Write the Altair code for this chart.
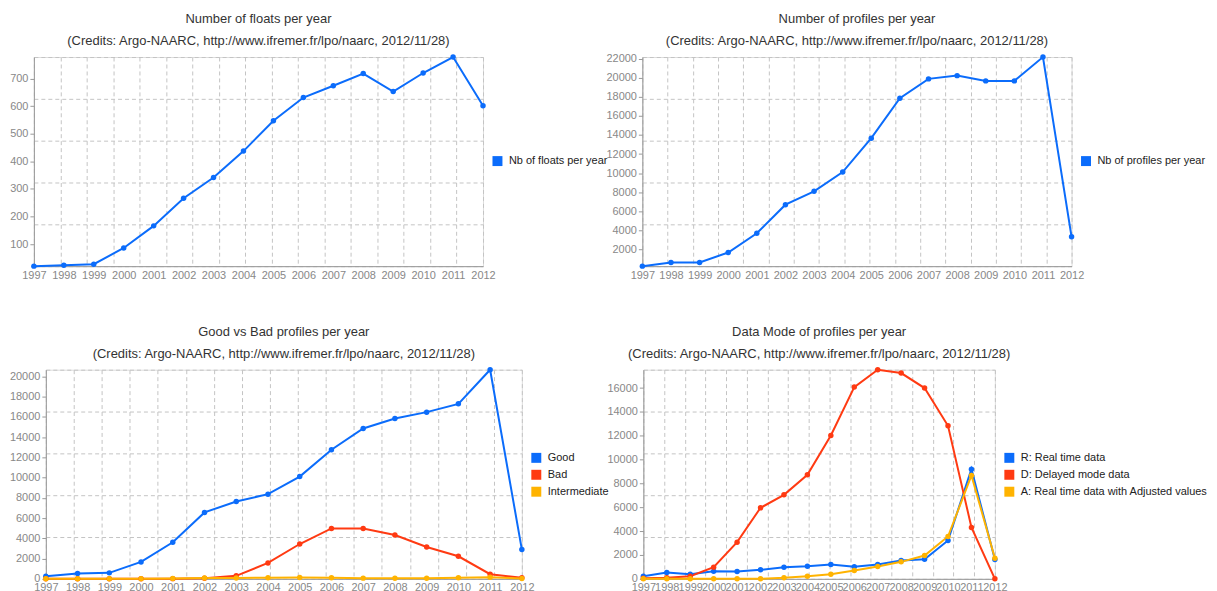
import altair as alt
import pandas as pd

years = [1997, 1998, 1999, 2000, 2001, 2002, 2003, 2004, 2005, 2006, 2007, 2008, 2009, 2010, 2011, 2012]

floats = [20, 23, 27, 86, 166, 266, 341, 437, 547, 631, 674, 718, 653, 720, 778, 601]
profiles = [260, 640, 650, 1690, 3710, 6700, 8100, 10120, 13670, 17850, 19880, 20220, 19670, 19670, 22170, 3330]

good = [260, 525, 590, 1670, 3610, 6560, 7640, 8360, 10100, 12750, 14850, 15840, 16460, 17280, 20650, 2890]
bad = [0, 0, 0, 10, 20, 60, 300, 1570, 3440, 4980, 4980, 4330, 3150, 2230, 460, 100]
intermediate = [10, 10, 10, 20, 30, 80, 80, 110, 130, 110, 70, 60, 60, 110, 150, 30]

mode_r = [224, 531, 392, 643, 615, 755, 979, 1063, 1203, 1007, 1203, 1538, 1650, 3217, 9202, 1622]
mode_d = [56, 84, 224, 979, 3077, 5958, 7048, 8726, 12027, 16083, 17540, 17258, 16000, 12838, 4307, 0]
mode_a = [0, 0, 0, 0, 0, 0, 84, 224, 392, 699, 1035, 1426, 1958, 3552, 8671, 1734]

ticks_floats = [100, 200, 300, 400, 500, 600, 700]
ticks_profiles = [2000, 4000, 6000, 8000, 10000, 12000, 14000, 16000, 18000, 20000, 22000]
ticks_quality = [0, 2000, 4000, 6000, 8000, 10000, 12000, 14000, 16000, 18000, 20000]
ticks_mode = [0, 2000, 4000, 6000, 8000, 10000, 12000, 14000, 16000]

credits = "(Credits: Argo-NAARC, http://www.ifremer.fr/lpo/naarc, 2012/11/28)"

BLUE = "#0b6cfb"
RED = "#ff3a12"
ORANGE = "#ffb300"
FONT = "Liberation Sans"

GRID_X_DIV = 17
GRID_Y_DIV = 5


def make_df(series):
    rows = []
    for name, vals in series:
        for y, v in zip(years, vals):
            rows.append({"year": y, "value": v, "series": name})
    return pd.DataFrame(rows)


def panel(title, series, colors, yticks, width, height, legend_y):
    names = [n for n, _ in series]
    df = make_df(series)
    grid_df = pd.DataFrame({"gx": [0, GRID_X_DIV], "gy": [0, GRID_Y_DIV]})
    grid = alt.Chart(grid_df).mark_point(opacity=0).encode(
        x=alt.X("gx:Q", scale=alt.Scale(domain=[0, GRID_X_DIV], nice=False),
                axis=alt.Axis(values=list(range(GRID_X_DIV + 1)), labels=False, ticks=False,
                              domain=False, grid=True, gridDash=[4, 3], gridColor="#c4c4c4",
                              gridWidth=1, orient="bottom", title=None)),
        y=alt.Y("gy:Q", scale=alt.Scale(domain=[0, GRID_Y_DIV], nice=False),
                axis=alt.Axis(values=list(range(GRID_Y_DIV + 1)), labels=False, ticks=False,
                              domain=False, grid=True, gridDash=[4, 3], gridColor="#c4c4c4",
                              gridWidth=1, orient="left", title=None)),
    )
    lines = alt.Chart(df).mark_line(
        strokeWidth=2,
        point=alt.OverlayMarkDef(filled=True, size=30),
    ).encode(
        x=alt.X("year:Q",
                scale=alt.Scale(domain=[years[0], years[-1]], nice=False, zero=False),
                axis=alt.Axis(values=years, format="d", labelOverlap=False, labelFlush=False,
                              ticks=False, grid=False, domainColor="#999999",
                              labelColor="#888888", labelFontSize=11, labelFont=FONT,
                              labelPadding=3, title=None, orient="bottom")),
        y=alt.Y("value:Q", scale=alt.Scale(zero=False, nice=False),
                axis=alt.Axis(values=yticks, format="d", grid=False, tickSize=4,
                              tickColor="#999999", domainColor="#999999",
                              labelColor="#888888", labelFontSize=11, labelFont=FONT,
                              labelPadding=2, labelOverlap=False, labelFlush=False,
                              title=None, orient="left")),
        color=alt.Color("series:N", sort=names,
                        scale=alt.Scale(domain=names, range=colors),
                        legend=alt.Legend(orient="none", legendX=width + 9, legendY=legend_y,
                                          title=None, symbolType="square", symbolSize=100,
                                          symbolStrokeWidth=0, labelFontSize=11,
                                          labelFont=FONT, labelColor="#222222",
                                          labelOffset=6, rowPadding=5, padding=0,
                                          labelLimit=400)),
    )
    return alt.layer(grid, lines).resolve_scale(x="independent", y="independent").properties(
        width=width, height=height,
        title=alt.Title([title, credits], anchor="middle", frame="group", fontSize=13,
                        fontWeight="normal", font=FONT, color="#333333", lineHeight=22,
                        offset=5),
    )


p1 = panel("Number of floats per year", [("Nb of floats per year", floats)], [BLUE],
           ticks_floats, 451, 210, 99)
p2 = panel("Number of profiles per year", [("Nb of profiles per year", profiles)], [BLUE],
           ticks_profiles, 431, 210, 99)
p3 = panel("Good vs Bad profiles per year",
           [("Good", good), ("Bad", bad), ("Intermediate", intermediate)],
           [BLUE, RED, ORANGE], ticks_quality, 478, 210, 83)
p4 = panel("Data Mode of profiles per year",
           [("R: Real time data", mode_r), ("D: Delayed mode data", mode_d),
            ("A: Real time data with Adjusted values", mode_a)],
           [BLUE, RED, ORANGE], ticks_mode, 353, 210, 83)

# invisible 1px spacer that shifts the lower row right (its y labels are wider)
spacer = alt.Chart(pd.DataFrame({"s": [0]})).mark_point(opacity=0).properties(width=1, height=1)

row1 = alt.hconcat(p1, p2, spacing=160, bounds="flush").resolve_scale(color="independent")
row2_inner = alt.hconcat(p3, p4, spacing=122, bounds="flush").resolve_scale(color="independent")
row2 = alt.hconcat(spacer, row2_inner, spacing=11, bounds="flush").resolve_scale(color="independent")

chart = alt.vconcat(row1, row2, spacing=44).resolve_scale(
    color="independent"
).properties(
    padding={"left": 0, "top": 3, "right": 0, "bottom": 0},
).configure_view(stroke=None).configure(background="white")

chart.save("out.html", embed_options={"renderer": "svg", "actions": False})
